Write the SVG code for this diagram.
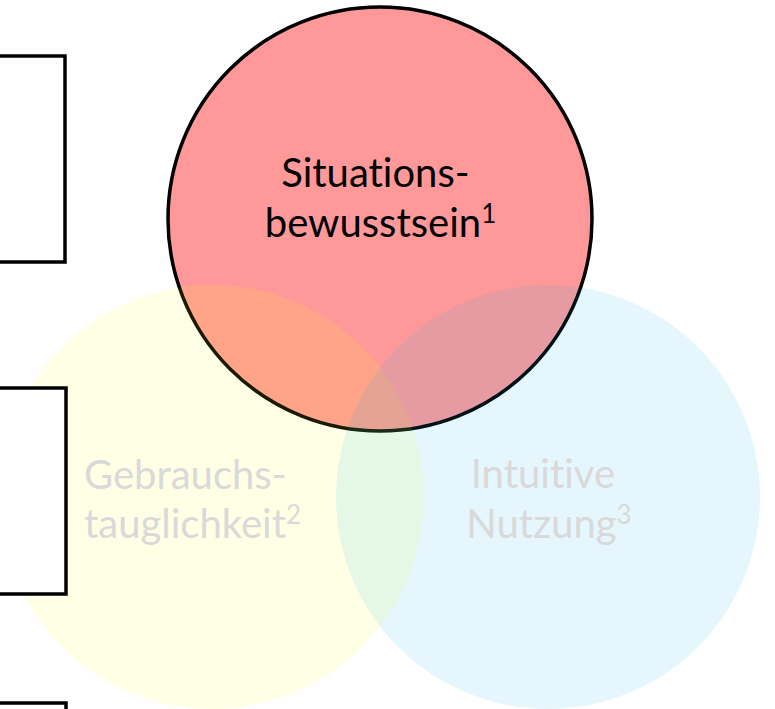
<svg xmlns="http://www.w3.org/2000/svg" width="775" height="709" viewBox="0 0 775 709">
  <style>
    .label { font-family: Lato, "Liberation Sans", sans-serif; font-size: 40px; font-variant-ligatures: none; font-feature-settings: "liga" 0, "clig" 0; }
    .dark { fill: #000000; }
    .pale { fill: #D9D9D9; }
    .box { fill: #FFFFFF; stroke: #000000; stroke-width: 3.5; }
  </style>
  <rect width="775" height="709" fill="#FFFFFF"/>

  <!-- situational awareness -->
  <g id="situationsbewusstsein">
    <circle cx="380" cy="219" r="212" fill="#FF9999" stroke="#000000" stroke-width="3.5"/>
    <text class="label dark" text-anchor="middle">
      <tspan x="380.5" y="187">Situations-</tspan>
      <tspan x="380.5" y="237">bewusstsein<tspan font-size="26" dy="-14">1</tspan></tspan>
    </text>
  </g>

  <!-- usability -->
  <g id="gebrauchstauglichkeit">
    <circle cx="212" cy="497" r="212" fill="#FFFF00" fill-opacity="0.1"/>
    <text class="label pale">
      <tspan x="84" y="489">Gebrauchs-</tspan>
      <tspan x="84" y="538">tauglichkeit<tspan font-size="26" dy="-14">2</tspan></tspan>
    </text>
  </g>

  <!-- intuitive use -->
  <g id="intuitive-nutzung">
    <circle cx="548" cy="497" r="212" fill="#00B0F0" fill-opacity="0.1"/>
    <text class="label pale" text-anchor="middle">
      <tspan x="548" y="488">Intuitive</tspan>
      <tspan x="549" y="538">Nutzung<tspan font-size="26" dy="-14">3</tspan></tspan>
    </text>
  </g>

  <!-- side boxes, cut at the left edge -->
  <g id="box-1"><rect class="box" x="-20" y="56" width="85" height="206"/></g>
  <g id="box-2"><rect class="box" x="-20" y="388" width="86" height="206"/></g>
  <g id="box-3"><rect class="box" x="-20" y="703" width="86" height="30"/></g>
</svg>
